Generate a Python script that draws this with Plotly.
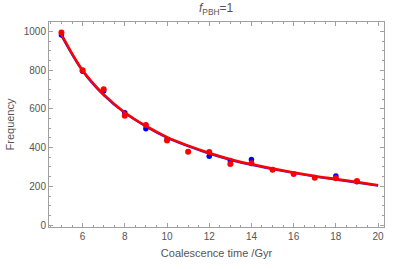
import plotly.graph_objects as go

# Data
t_points = [5, 6, 7, 8, 9, 10, 11, 12, 13, 14, 15, 16, 17, 18, 19]
red_freq = [995, 800, 702, 565, 517, 437, 379, 378, 315, 319, 286, 264, 245, 242, 228]
blue_t = [5, 6, 7, 8, 9, 10, 12, 13, 14, 18, 19]
blue_freq = [982, 795, 692, 580, 497, 442, 355, 334, 339, 253, 224]

curve_t = [5, 6, 7, 8, 9, 10, 11, 12, 13, 14, 15, 16, 17, 18, 19, 20]
red_curve = [985, 800, 675, 582, 512, 454, 410, 372, 340, 314, 292, 272, 254, 238, 222, 206]
blue_curve = [978, 796, 671, 579, 509, 451, 407, 369, 337, 311, 289, 269, 251, 235, 219, 203]

x_ticks = [6, 8, 10, 12, 14, 16, 18, 20]
y_ticks = [0, 200, 400, 600, 800, 1000]

fig = go.Figure()
fig.add_trace(go.Scatter(x=curve_t, y=blue_curve, mode="lines", line=dict(color="rgb(40,40,255)", width=2.2, shape="spline"), showlegend=False))
fig.add_trace(go.Scatter(x=blue_t, y=blue_freq, mode="markers", marker=dict(color="rgb(0,0,255)", size=5.5), showlegend=False))
fig.add_trace(go.Scatter(x=t_points, y=red_freq, mode="markers", marker=dict(color="rgb(255,0,0)", size=6), showlegend=False))
fig.add_trace(go.Scatter(x=curve_t, y=red_curve, mode="lines", line=dict(color="rgb(255,0,0)", width=2.5, shape="spline"), showlegend=False))

axis_common = dict(
    showgrid=False, zeroline=False, showline=True, linecolor="#a0a0a0", linewidth=1,
    mirror="ticks", ticks="inside", ticklen=4, tickcolor="#a0a0a0", tickwidth=1,
    tickfont=dict(family="Liberation Sans, Arial", size=10, color="#555555"),
    automargin=False,
)
fig.update_xaxes(range=[4.41, 20.28], tickvals=x_ticks,
                 minor=dict(dtick=0.5, tick0=0, ticks="inside", ticklen=2, tickcolor="#a0a0a0"),
                 title=dict(text="Coalescence time /Gyr", font=dict(family="Liberation Sans, Arial", size=11, color="#555555"), standoff=8),
                 **axis_common)
fig.update_yaxes(range=[-10, 1049], tickvals=y_ticks,
                 minor=dict(dtick=50, tick0=0, ticks="inside", ticklen=2, tickcolor="#a0a0a0"),
                 title=dict(text="Frequency", font=dict(family="Liberation Sans, Arial", size=11, color="#555555"), standoff=6),
                 **axis_common)
fig.update_layout(
    width=407, height=269,
    margin=dict(l=49, r=23, t=22, b=42, autoexpand=False),
    paper_bgcolor="white", plot_bgcolor="white",
    hovermode=False,
    title=dict(text="<i>f</i><sub>PBH</sub>=1", x=0.531, xanchor="center", y=0.985, yanchor="top",
               font=dict(family="Liberation Sans, Arial", size=12, color="#555555")),
)
fig.write_html("out.html", config={"displayModeBar": False, "staticPlot": True},
               post_script="document.body.style.margin='0';document.body.style.overflow='hidden';")
